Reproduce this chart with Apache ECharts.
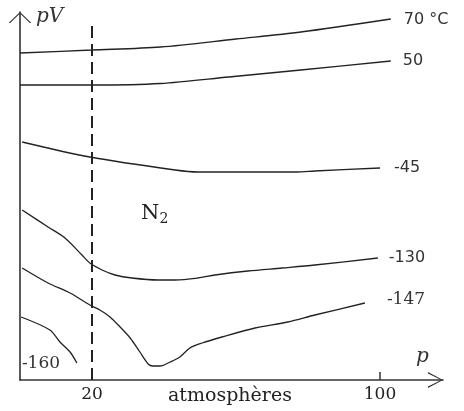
<!DOCTYPE html>
<html>
<head>
<meta charset="utf-8">
<script src="https://cdn.jsdelivr.net/npm/echarts@6/dist/echarts.min.js"></script>
<style>
  html, body { margin: 0; padding: 0; background: #fff; }
  #chart { width: 464px; height: 411px; }
</style>
</head>
<body>
<div id="chart"></div>
<script>
// isothermes de N2 : pV en fonction de p (atmosphères), pV en unités arbitraires
var p70 = [0, 20, 39, 60, 78, 103];
var pv70 = [327, 330, 333, 341, 348, 361];

var p50 = [0, 20, 39, 58, 78, 103];
var pv50 = [295, 295, 296.5, 303, 310, 319];

var pm45 = [0.6, 19.4, 43.1, 49.4, 76.9, 81.9, 100];
var pvm45 = [238, 223, 210, 208, 208, 209, 212];

var pm130 = [0.6, 7.8, 12.5, 17.2, 19.4, 22.8, 26.4, 31.1, 38.3, 43.1, 49.4, 54.2, 63.3, 72.8, 81.9, 99.4];
var pvm130 = [170, 153, 142, 125, 117, 110, 105, 102, 100, 100, 102, 105, 109, 112, 115, 122];

var pm147 = [0.6, 7.8, 13.9, 19.4, 22.2, 25, 27.8, 30.6, 33.3, 35.6, 36.9, 38.9, 41.7, 44.4, 47.2, 50.6, 56.1, 65.3, 74.4, 81.9, 95.8];
var pvm147 = [112, 97, 87, 75, 70, 63, 53, 42, 28, 16, 14, 14, 18, 23, 32, 37, 43, 52, 58, 65, 77];

var pm160 = [0.3, 8.3, 11.1, 13.9, 15.8];
var pvm160 = [63, 50, 38, 28, 17];

var xTicks = [20, 100];
var pDashed = 20;

var chart = echarts.init(document.getElementById('chart'));

var lineColor = '#222';
var sans = 'DejaVu Sans';
var serif = 'DejaVu Serif';

function zip(xs, ys) {
  return xs.map(function (x, i) { return [x, ys[i]]; });
}

function isotherme(name, xs, ys, lab) {
  return {
    name: name,
    type: 'line',
    data: zip(xs, ys),
    smooth: 0.3,
    symbol: 'none',
    lineStyle: { color: lineColor, width: 1.3 },
    endLabel: {
      show: true,
      formatter: name,
      distance: lab.distance,
      offset: lab.offset || [0, 0],
      color: '#333',
      fontFamily: lab.font,
      fontSize: lab.size
    }
  };
}

var series = [
  isotherme('70 °C', p70, pv70, { distance: 13, offset: [0, 1], font: sans, size: 16 }),
  isotherme('50', p50, pv50, { distance: 12, offset: [0, 0], font: sans, size: 16 }),
  isotherme('-45', pm45, pvm45, { distance: 14, offset: [0, 0], font: sans, size: 16 }),
  isotherme('-130', pm130, pvm130, { distance: 11, offset: [0, 0], font: sans, size: 16 }),
  isotherme('-147', pm147, pvm147, { distance: 22, offset: [0, -3], font: serif, size: 17 }),
  isotherme('-160', pm160, pvm160, { distance: 5, offset: [-60, 1], font: serif, size: 17 })
];

// droite verticale en tirets à p = 20
series[0].markLine = {
  silent: true,
  symbol: 'none',
  label: { show: false },
  lineStyle: { color: lineColor, width: 2, type: [12, 6] },
  data: [[{ coord: [pDashed, 0] }, { coord: [pDashed, 355] }]]
};

var option = {
  animation: false,
  backgroundColor: '#fff',
  grid: { left: 20, right: 21, top: 12, bottom: 31 },
  xAxis: {
    type: 'value',
    min: 0,
    max: 117.5,
    name: 'p',
    nameLocation: 'end',
    nameGap: -27,
    nameTextStyle: {
      fontFamily: serif, fontStyle: 'italic', fontSize: 20, color: '#333',
      align: 'left', verticalAlign: 'bottom', padding: [0, 0, 13, 0]
    },
    splitLine: { show: false },
    axisLine: {
      lineStyle: { color: '#333', width: 1.6 },
      symbol: ['none', 'path://M50,0 L100,94 L91,94 L50,12 L9,94 L0,94 Z'],
      symbolSize: [16, 15],
      symbolOffset: [0, -7.5]
    },
    axisTick: { show: true, inside: true, length: 8, customValues: [100], lineStyle: { color: '#333', width: 1.5 } },
    axisLabel: {
      customValues: xTicks,
      margin: 6,
      fontFamily: serif, fontSize: 17, color: '#222'
    }
  },
  yAxis: {
    type: 'value',
    min: 0,
    max: 368,
    name: 'pV',
    nameLocation: 'end',
    nameGap: -5,
    nameTextStyle: {
      fontFamily: serif, fontStyle: 'italic', fontSize: 20, color: '#333',
      align: 'left', verticalAlign: 'middle', padding: [0, 0, 0, 16]
    },
    splitLine: { show: false },
    axisTick: { show: false },
    axisLabel: { show: false },
    axisLine: {
      show: true,
      lineStyle: { color: '#333', width: 1.6 },
      symbol: ['none', 'path://M50,0 L100,48 L93,48 L50,7 L7,48 L0,48 Z'],
      symbolSize: [23, 11],
      symbolOffset: [0, -5.5]
    }
  },
  graphic: [
    {
      type: 'text',
      left: 141,
      top: 203,
      style: {
        text: 'N{sub|2}',
        fill: '#222',
        font: '21px "DejaVu Serif"',
        rich: { sub: { fontSize: 14, fontFamily: serif, padding: [12, 0, 0, 0] } }
      }
    },
    {
      type: 'text',
      left: 168,
      top: 387,
      style: { text: 'atmosphères', fill: '#222', font: '19px "DejaVu Serif"' }
    }
  ],
  series: series
};

chart.setOption(option);
</script>
</body>
</html>
